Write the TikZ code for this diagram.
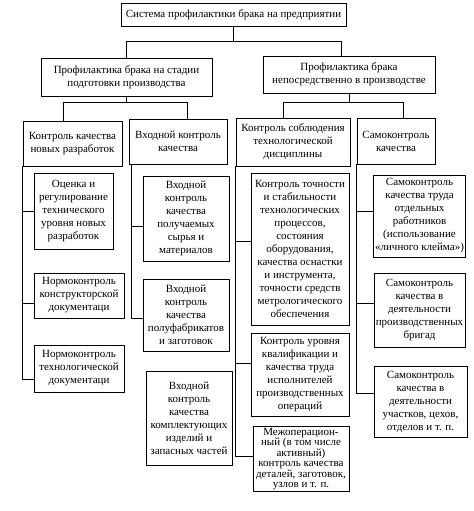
\documentclass[tikz,border=0pt]{standalone}
\usepackage{fontspec}
\setmainfont{Liberation Serif}
\usepackage{tikz}
\usetikzlibrary{calc,positioning,shadows}

\begin{document}
\begin{tikzpicture}[x=0.75pt,y=-0.75pt]

\tikzset{box/.style={draw, fill=white, align=center, inner sep=1pt,
  font=\fontsize{8.25}{9.75}\selectfont,
  drop shadow={shadow xshift=0.7pt, shadow yshift=-0.7pt, fill=black!35, opacity=1}}}
\tikzset{tight/.style={font=\fontsize{8.25}{7.9}\selectfont}}

\useasboundingbox (0,0) rectangle (474,511);

% top levels
\node[box, minimum width=168.75pt, minimum height=17.25pt] (sys) at (233.5,14.5) {Система профилактики брака на предприятии};
\node[box, minimum width=128.25pt, minimum height=28.5pt] (prep) at (126.5,77) {Профилактика брака на стадии\\подготовки производства};
\node[box, minimum width=129pt, minimum height=27.75pt] (prod) at (349,74.5) {Профилактика брака\\непосредственно в производстве};

\node[box, minimum width=74.25pt, minimum height=33.75pt] (novye) at (72.5,143.5) {Контроль качества\\новых разработок};
\node[box, minimum width=73.5pt, minimum height=33.75pt] (vhod) at (178,141.5) {Входной контроль\\качества};
\node[box, minimum width=85.5pt, minimum height=36pt] (disc) at (293,142) {Контроль соблюдения\\технологической\\дисциплины};
\node[box, minimum width=58.5pt, minimum height=34.5pt] (samo) at (396,141) {Самоконтроль\\качества};

% column 1
\node[box, minimum width=59.25pt, minimum height=57pt] (ocenka) at (73.5,211) {Оценка и\\регулирование\\технического\\уровня новых\\разработок};
\node[box, minimum width=67.5pt, minimum height=33.75pt] (konstr) at (79,295.5) {Нормоконтроль\\конструкторской\\документаци};
\node[box, minimum width=67.5pt, minimum height=35.25pt] (tehdoc) at (79,368.5) {Нормоконтроль\\технологической\\документаци};

% column 2
\node[box, minimum width=64.5pt, minimum height=63.75pt] (syrje) at (186,218.5) {Входной\\контроль\\качества\\получаемых\\сырья и\\материалов};
\node[box, minimum width=64.5pt, minimum height=54pt] (polufab) at (186,315) {Входной\\контроль\\качества\\полуфабрикатов\\и заготовок};
\node[box, minimum width=64.5pt, minimum height=70.5pt] (kompl) at (189,418) {Входной\\контроль\\качества\\комплектующих\\изделий и\\запасных частей};

% column 3
\node[box, minimum width=73.5pt, minimum height=114pt] (tochn) at (300,249) {Контроль точности\\и стабильности\\технологических\\процессов,\\состояния\\оборудования,\\качества оснастки\\и инструмента,\\точности средств\\метрологического\\обеспечения};
\node[box, minimum width=73.5pt, minimum height=62.25pt] (kvalif) at (300,374.5) {Контроль уровня\\квалификации и\\качества труда\\исполнителей\\производственных\\операций};
\node[box, tight, minimum width=72pt, minimum height=48pt] (mezhop) at (301,459) {Межоперацион-\\ный (в том числе\\активный)\\контроль качества\\деталей, заготовок,\\узлов и т. п.};

% column 4
\node[box, minimum width=68.25pt, minimum height=61.5pt] (rabot) at (419.5,216) {Самоконтроль\\качества труда\\отдельных\\работников\\(использование\\«личного клейма»)};
\node[box, minimum width=68.25pt, minimum height=55.5pt] (brigad) at (419.5,310) {Самоконтроль\\качества в\\деятельности\\производственных\\бригад};
\node[box, minimum width=69.75pt, minimum height=53.25pt] (ceh) at (420.5,401.5) {Самоконтроль\\качества в\\деятельности\\участков, цехов,\\отделов и т. п.};

% connectors
\draw (sys.south) -- ++(0,16);
\draw (prep.north) -- ++(0,-16) -| ([xshift=-6pt]prod.north);
\draw (prep.south) -- ++(0,7);
\draw ([xshift=-7pt]novye.north) -- ++(0,-18) -| ([xshift=7pt]vhod.north);
\draw (prod.south) -- ++(0,10);
\draw ([xshift=-7.5pt]disc.north) -- ++(0,-15) -| ([xshift=5.25pt]samo.north);

\draw (ocenka.west) -| (novye.south west);
\draw ([yshift=-5.6pt]konstr.west) -| (novye.south west);
\draw ([yshift=-8pt]tehdoc.west) -| (novye.south west);

\draw ([yshift=-5.6pt]syrje.west) -| ([xshift=2.25pt]vhod.south west);
\draw ([yshift=-2.25pt]polufab.west) -| ([xshift=2.25pt]vhod.south west);

\draw ([yshift=6pt]tochn.west) -| (disc.south west);
\draw ([yshift=8.6pt]kvalif.west) -| (disc.south west);
\draw ([yshift=2.25pt]mezhop.west) -| (disc.south west);

\draw ([yshift=3.75pt]rabot.west) -| (samo.south west);
\draw ([yshift=5.25pt]brigad.west) -| (samo.south west);
\draw ([yshift=6.4pt]ceh.west) -| (samo.south west);

\end{tikzpicture}
\end{document}
